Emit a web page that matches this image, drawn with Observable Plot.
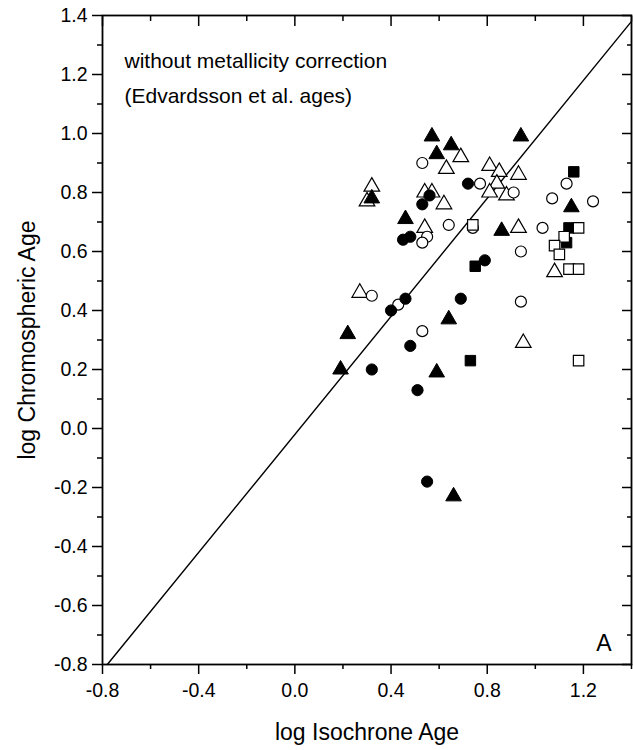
<!DOCTYPE html>
<html>
<head>
<meta charset="utf-8">
<script src="https://cdn.jsdelivr.net/npm/d3@7"></script>
<script src="https://cdn.jsdelivr.net/npm/@observablehq/plot@0.6"></script>
<style>
  html, body { margin: 0; padding: 0; background: #fff; }
  #chart svg { display: block; font-family: "Liberation Sans", Arial, Helvetica, sans-serif; }
</style>
</head>
<body>
<div id="chart"></div>
<script>
// ---- data (log isochrone age, log chromospheric age) ----
const filledTriangles = [
  [0.57, 0.99], [0.94, 0.99], [0.65, 0.96], [0.59, 0.93], [0.32, 0.78],
  [1.15, 0.75], [0.46, 0.71], [0.86, 0.67], [0.64, 0.37], [0.22, 0.32],
  [0.19, 0.20], [0.59, 0.19], [0.66, -0.23]
];
const filledCircles = [
  [0.72, 0.83], [0.56, 0.79], [0.53, 0.76], [0.48, 0.65], [0.45, 0.64],
  [0.79, 0.57], [0.46, 0.44], [0.69, 0.44], [0.40, 0.40], [0.48, 0.28],
  [0.32, 0.20], [0.51, 0.13], [0.55, -0.18]
];
const filledSquares = [
  [1.16, 0.87], [1.14, 0.68], [1.13, 0.63], [0.75, 0.55], [0.73, 0.23]
];
const openSquares = [
  [0.74, 0.69], [1.18, 0.68], [1.12, 0.65], [1.08, 0.62], [1.10, 0.59],
  [1.14, 0.54], [1.18, 0.54], [1.18, 0.23]
];
const openCircles = [
  [0.53, 0.90], [0.77, 0.83], [1.13, 0.83], [0.91, 0.80], [1.07, 0.78],
  [1.24, 0.77], [0.64, 0.69], [0.74, 0.68], [1.03, 0.68], [0.55, 0.65],
  [0.53, 0.63], [0.94, 0.60], [0.32, 0.45], [0.94, 0.43], [0.43, 0.42],
  [0.53, 0.33]
];
const openTriangles = [
  [0.69, 0.92], [0.63, 0.88], [0.81, 0.89], [0.85, 0.87], [0.93, 0.86],
  [0.84, 0.83], [0.81, 0.80], [0.88, 0.79], [0.32, 0.82], [0.30, 0.77],
  [0.54, 0.80], [0.57, 0.80], [0.62, 0.76], [0.54, 0.68], [0.93, 0.68],
  [1.08, 0.53], [0.27, 0.46], [0.95, 0.29]
];
// reference line end points
const refLineX = [-0.78, 1.40];
const refLineY = [-0.80, 1.38];

// ---- axes / labels ----
const xMajorTicks = [-0.8, -0.4, 0.0, 0.4, 0.8, 1.2];
const xMinorTicks = [-0.6, -0.2, 0.2, 0.6, 1.0, 1.4];
const yMajorTicks = [-0.8, -0.6, -0.4, -0.2, 0.0, 0.2, 0.4, 0.6, 0.8, 1.0, 1.2, 1.4];
const yMinorTicks = [-0.7, -0.5, -0.3, -0.1, 0.1, 0.3, 0.5, 0.7, 0.9, 1.1, 1.3];
const xTitle = "log Isochrone Age";
const yTitle = "log Chromospheric Age";
const annotation = "without metallicity correction\n(Edvardsson et al. ages)";
const panelLabel = "A";

const fmt = d => d.toFixed(1);
const pts = arr => arr.map(([x, y]) => ({x, y}));
const refLine = refLineX.map((x, i) => ({x, y: refLineY[i]}));

const lw = 1.5;
const chart = Plot.plot({
  width: 633,
  height: 750,
  marginLeft: 102,
  marginRight: 2,
  marginTop: 15,
  marginBottom: 86,
  style: {background: "#fff", color: "#000", fontFamily: "'Liberation Sans', Arial, Helvetica, sans-serif"},
  x: {domain: [-0.8, 1.4]},
  y: {domain: [-0.8, 1.4]},
  marks: [
    // reference line
    Plot.line(refLine, {x: "x", y: "y", stroke: "#000", strokeWidth: 1.4}),
    // data
    Plot.dot(pts(openTriangles), {x: "x", y: "y", symbol: "triangle", r: 5.8, fill: "#fff", stroke: "#000", strokeWidth: 1.2}),
    Plot.dot(pts(openCircles), {x: "x", y: "y", symbol: "circle", r: 5.5, fill: "#fff", stroke: "#000", strokeWidth: 1.2}),
    Plot.dot(pts(filledCircles), {x: "x", y: "y", symbol: "circle", r: 5.6, fill: "#000", stroke: "#000", strokeWidth: 1}),
    Plot.dot(pts(filledTriangles), {x: "x", y: "y", symbol: "triangle", r: 5.8, fill: "#000", stroke: "#000", strokeWidth: 1}),
    Plot.dot(pts(filledSquares), {x: "x", y: "y", symbol: "square", r: 5.9, fill: "#000", stroke: "#000", strokeWidth: 1}),
    Plot.dot(pts(openSquares), {x: "x", y: "y", symbol: "square", r: 5.9, fill: "#fff", stroke: "#000", strokeWidth: 1.2}),
    // axes
    Plot.axisX(xMajorTicks, {anchor: "bottom", tickSize: 10, tickPadding: 9, tickFormat: fmt, fontSize: 19.5, label: null, strokeWidth: lw}),
    Plot.axisX(xMinorTicks, {anchor: "bottom", tickSize: 5, fill: "none", label: null, strokeWidth: lw}),
    Plot.axisX(xMajorTicks, {anchor: "top", tickSize: 10, dy: 10, fill: "none", label: null, strokeWidth: lw}),
    Plot.axisX(xMinorTicks, {anchor: "top", tickSize: 5, dy: 5, fill: "none", label: null, strokeWidth: lw}),
    Plot.axisY(yMajorTicks, {anchor: "left", tickSize: 10, tickPadding: 5, tickFormat: fmt, fontSize: 19.5, label: null, strokeWidth: lw}),
    Plot.axisY(yMinorTicks, {anchor: "left", tickSize: 5, fill: "none", label: null, strokeWidth: lw}),
    Plot.axisY(yMajorTicks, {anchor: "right", tickSize: 10, dx: -10, fill: "none", label: null, strokeWidth: lw}),
    Plot.axisY(yMinorTicks, {anchor: "right", tickSize: 5, dx: -5, fill: "none", label: null, strokeWidth: lw}),
    Plot.frame({stroke: "#000", strokeWidth: 1.8}),
    // texts
    Plot.text([annotation], {frameAnchor: "top-left", dx: 22, dy: 27, textAnchor: "start", lineAnchor: "top", fontSize: 21, lineHeight: 1.68, fill: "#000"}),
    Plot.text([panelLabel], {frameAnchor: "bottom-right", dx: -20, dy: -21, textAnchor: "end", lineAnchor: "middle", fontSize: 23, fill: "#000"}),
    Plot.text([xTitle], {frameAnchor: "bottom", dy: 68, lineAnchor: "middle", fontSize: 23, fill: "#000"}),
    Plot.text([yTitle], {frameAnchor: "left", dx: -75, rotate: -90, textAnchor: "middle", lineAnchor: "middle", fontSize: 23, fill: "#000"})
  ]
});
document.getElementById("chart").appendChild(chart);
</script>
</body>
</html>
